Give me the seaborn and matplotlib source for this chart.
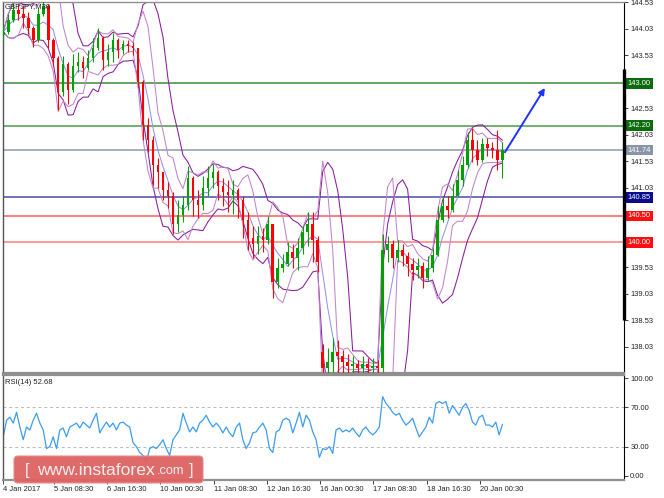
import matplotlib
matplotlib.use("Agg")
import matplotlib.pyplot as plt
from matplotlib.patches import FancyBboxPatch
from matplotlib.transforms import IdentityTransform
import numpy as np
import pandas as pd
import seaborn as sns

# GBPJPY M30, 4-20 Jan 2017, drawn as one candle per 6 bars
bar_step = 6
first_bar = 3

opens = [143.91, 143.97, 144.19, 144.38, 144.30, 144.23, 144.04, 143.81, 144.30, 144.46,
         143.81, 143.48, 142.83, 143.36, 142.87, 143.32, 143.40, 143.29, 143.48, 143.66,
         143.85, 143.44, 143.59, 143.81, 143.63, 143.74, 143.70, 143.66, 143.02, 142.21,
         141.93, 141.46, 141.33, 140.99, 140.88, 140.35, 140.52, 140.71, 141.21, 140.80,
         140.71, 141.03, 141.21, 141.33, 141.06, 140.95, 140.89, 140.99, 140.80, 140.42,
         140.08, 139.97, 140.12, 140.05, 140.35, 139.26, 139.52, 139.59, 139.82, 139.71,
         139.90, 140.20, 140.35, 140.05, 137.94, 137.64, 137.75, 137.94, 137.86, 137.75,
         137.67, 137.71, 137.64, 137.71, 137.64, 137.67, 137.64, 139.86, 139.97, 139.71,
         139.86, 139.75, 139.59, 139.48, 139.56, 139.33, 139.52, 139.76, 140.42, 140.69,
         140.61, 140.88, 141.18, 141.46, 141.93, 141.74, 141.55, 141.86, 141.78, 141.74,
         141.55]
closes = [143.97, 144.19, 144.38, 144.30, 144.23, 144.04, 143.81, 144.30, 144.46, 143.81,
          143.48, 142.83, 143.36, 142.87, 143.32, 143.40, 143.29, 143.48, 143.66, 143.85,
          143.44, 143.59, 143.81, 143.63, 143.74, 143.70, 143.66, 143.02, 142.21, 141.93,
          141.46, 141.33, 140.99, 140.88, 140.35, 140.52, 140.71, 141.21, 140.80, 140.71,
          141.03, 141.21, 141.33, 141.06, 140.95, 140.89, 140.99, 140.80, 140.42, 140.08,
          139.97, 140.12, 140.05, 140.35, 139.26, 139.52, 139.59, 139.82, 139.71, 139.90,
          140.20, 140.35, 140.05, 139.63, 137.64, 137.75, 137.94, 137.86, 137.75, 137.67,
          137.71, 137.64, 137.71, 137.64, 137.67, 137.64, 139.86, 139.97, 139.71, 139.86,
          139.75, 139.59, 139.48, 139.56, 139.33, 139.52, 139.76, 140.42, 140.69, 140.61,
          140.88, 141.18, 141.46, 141.93, 141.74, 141.55, 141.86, 141.78, 141.74, 141.55,
          141.74]
highs = [144.10, 144.30, 144.51, 144.49, 144.46, 144.34, 144.08, 144.42, 144.57, 144.49,
         143.85, 143.51, 143.51, 143.40, 143.55, 143.59, 143.51, 143.63, 143.85, 144.04,
         143.89, 143.74, 143.95, 143.85, 143.81, 143.81, 143.78, 143.66, 143.06, 142.35,
         142.01, 141.59, 141.33, 141.14, 140.95, 140.80, 140.88, 141.44, 141.25, 140.99,
         141.25, 141.44, 141.48, 141.37, 141.21, 141.18, 141.18, 141.03, 140.88, 140.57,
         140.31, 140.31, 140.27, 140.50, 140.35, 139.71, 139.78, 140.01, 139.97, 140.08,
         140.31, 140.57, 140.57, 140.12, 138.09, 138.01, 138.20, 138.16, 137.97, 137.90,
         137.86, 137.79, 137.86, 137.82, 137.82, 137.79, 140.16, 140.12, 140.05, 140.05,
         139.97, 139.82, 139.71, 139.71, 139.63, 139.75, 139.90, 140.69, 140.88, 140.88,
         141.10, 141.37, 141.63, 142.08, 142.16, 141.93, 141.97, 141.97, 141.89, 142.12,
         141.89]
lows = [143.81, 143.93, 144.15, 144.19, 144.04, 143.93, 143.68, 143.78, 144.27, 143.66,
        143.32, 142.50, 142.76, 142.61, 142.83, 143.21, 143.10, 143.25, 143.40, 143.63,
        143.25, 143.32, 143.40, 143.48, 143.55, 143.59, 143.53, 142.91, 141.93, 141.70,
        141.08, 141.03, 140.80, 140.65, 140.16, 140.20, 140.39, 140.61, 140.50, 140.46,
        140.61, 140.88, 141.03, 140.80, 140.69, 140.57, 140.54, 140.46, 140.08, 139.86,
        139.71, 139.78, 139.82, 139.97, 138.95, 139.14, 139.44, 139.56, 139.52, 139.48,
        139.78, 139.93, 139.63, 139.44, 137.41, 137.45, 137.56, 137.48, 137.48, 137.45,
        137.45, 137.41, 137.45, 137.41, 137.45, 137.41, 137.56, 139.63, 139.52, 139.63,
        139.56, 139.37, 139.29, 139.33, 139.14, 139.29, 139.44, 139.75, 140.39, 140.46,
        140.57, 140.88, 141.06, 141.40, 141.52, 141.46, 141.52, 141.63, 141.59, 141.37,
        141.21]

# RSI(14), one reading every 4 bars
rsi_step = 4
rsi_values = [40, 57, 60, 54, 65, 50, 37, 50, 47, 57,
              64, 54, 47, 28, 30, 40, 28, 47, 49, 40,
              50, 52, 54, 49, 55, 52, 49, 57, 64, 44,
              50, 55, 50, 54, 47, 54, 55, 52, 50, 34,
              30, 24, 21, 14, 28, 30, 28, 32, 37, 28,
              21, 37, 42, 47, 64, 54, 45, 50, 45, 54,
              57, 62, 55, 50, 54, 50, 44, 50, 44, 40,
              50, 54, 37, 28, 34, 44, 45, 50, 54, 47,
              28, 24, 45, 47, 57, 59, 57, 44, 54, 65,
              50, 62, 57, 45, 37, 19,
              28, 27, 30, 23, 47, 49, 45, 47, 45, 49,
              44, 40, 47, 50, 45, 42, 45, 50, 81, 74,
              70, 65, 62, 64, 57, 52, 55, 59, 49, 40,
              45, 50, 60, 54, 74, 76, 74, 76, 64, 72,
              67, 62, 70, 74, 67, 55, 52, 60, 62, 52,
              52, 50, 55, 42, 52.68]

level_prices = [143.00, 142.20, 141.74, 140.85, 140.50, 140.00]
level_line_colors = ["#3a8a3a", "#4a9a4a", "#8a9bb0", "#4b4ba6", "#ff5a5a", "#ff7d7d"]
level_box_colors = ["#0c6b0c", "#0c6b0c", "#8795a6", "#0a0a8c", "#ff1010", "#ff1010"]

price_ticks = [138.03, 138.53, 139.03, 139.53, 141.03, 141.53, 142.03, 142.53,
               143.53, 144.03, 144.53]
rsi_ticks = [0, 30, 70, 100]
time_labels = ["4 Jan 2017", "5 Jan 08:30", "6 Jan 16:30", "10 Jan 00:30", "11 Jan 08:30",
               "12 Jan 16:30", "16 Jan 00:30", "17 Jan 08:30", "18 Jan 16:30", "20 Jan 00:30"]
time_label_bars = [3, 64, 128, 192, 256, 320, 384, 448, 512, 576]

arrow_from = (606, 141.70)
arrow_to = (654, 142.91)
scale_bar = (138.54, 143.27)

W, H = 664, 498


def fx(x):
    return x / W


def fy(y):
    return 1 - y / H


sns.set_style("white")
plt.rcParams["font.family"] = ["Liberation Sans", "DejaVu Sans"]

fig = plt.figure(figsize=(W / 100, H / 100), dpi=100)
ax_p = fig.add_axes([fx(3), fy(373), (624 - 3) / W, 371 / H])
ax_r = fig.add_axes([fx(3), fy(480), (624 - 3) / W, 105 / H])

xlim = (2.7, 749.1)

# ---- price pane ----
df = pd.DataFrame({"open": opens, "high": highs, "low": lows, "close": closes})
df["bar"] = first_bar + bar_step * np.arange(len(df))
up = df["close"] >= df["open"]
colors = np.where(up, "#00a000", "#ff0000")

# two bollinger envelopes and the short moving average
for win, col in [(7, "#8a1c9c"), (4, "#c185ce")]:
    mid = df["close"].rolling(win, min_periods=1).mean()
    sd = df["close"].rolling(win, min_periods=1).std(ddof=0)
    sns.lineplot(x=df["bar"], y=mid + 2 * sd, ax=ax_p, color=col, lw=0.75, zorder=2)
    sns.lineplot(x=df["bar"], y=mid - 2 * sd, ax=ax_p, color=col, lw=0.75, zorder=2)
mid4 = df["close"].rolling(4, min_periods=1).mean()
sns.lineplot(x=df["bar"], y=mid4, ax=ax_p, color="#8c8cf2", lw=0.7, zorder=2)

ax_p.vlines(df["bar"], df["low"], df["high"], colors=colors, lw=0.8, zorder=3)
body_lo = np.minimum(df["open"], df["close"])
body_h = np.maximum(np.abs(df["close"] - df["open"]), 0.015)
ax_p.bar(df["bar"], body_h, bottom=body_lo, width=3.2, color=colors, lw=0, zorder=3)

for price, lc, bc in zip(level_prices, level_line_colors, level_box_colors):
    ax_p.axhline(price, color=lc, lw=1.1, zorder=1)
    ax_p.text(1.006, price, f"{price:.2f}", transform=ax_p.get_yaxis_transform(),
              ha="left", va="center", fontsize=5.4, color="white", clip_on=False,
              bbox=dict(boxstyle="square,pad=0.25", fc=bc, ec="none"))

ax_p.annotate("", xy=arrow_to, xytext=arrow_from,
              arrowprops=dict(arrowstyle="-|>", color="#1e32ff", lw=1.4,
                              mutation_scale=9, shrinkA=0, shrinkB=0), zorder=5)

ax_p.plot([1, 1], scale_bar, transform=ax_p.get_yaxis_transform(), color="black",
          lw=2.4, clip_on=False, solid_capstyle="butt", zorder=6)

ax_p.set_xlim(*xlim)
ax_p.set_ylim(137.54, 144.53)
ax_p.set_xticks([])
ax_p.yaxis.tick_right()
ax_p.set_yticks(price_ticks)
ax_p.set_yticklabels([f"{v:.2f}" for v in price_ticks])
ax_p.set_xlabel("")
ax_p.set_ylabel("")

# ---- RSI pane ----
rsi_bars = first_bar + rsi_step * np.arange(len(rsi_values))
ax_r.axhline(70, color="#b8b8b8", lw=0.7, ls=(0, (3, 3)))
ax_r.axhline(30, color="#b8b8b8", lw=0.7, ls=(0, (3, 3)))
sns.lineplot(x=rsi_bars, y=rsi_values, ax=ax_r, color="#3c9cf2", lw=0.9)
ax_r.set_xlim(*xlim)
ax_r.set_ylim(-4.1, 103.1)
ax_r.yaxis.tick_right()
ax_r.set_yticks(rsi_ticks)
ax_r.set_yticklabels([f"{v:.2f}" for v in rsi_ticks])
ax_r.set_xticks(time_label_bars)
ax_r.set_xticklabels(time_labels, ha="left")
ax_r.set_xlabel("")
ax_r.set_ylabel("")

for ax in (ax_p, ax_r):
    ax.tick_params(axis="y", which="both", right=True, left=False, length=3, width=0.6,
                   pad=1.5, labelsize=5.4, colors="#222222", direction="out")
    ax.spines["left"].set_color("#555555")
    ax.spines["left"].set_linewidth(1.0)
    ax.spines["right"].set_color("#000000")
    ax.spines["right"].set_linewidth(0.8)
    ax.set_facecolor("white")
ax_r.tick_params(axis="x", bottom=True, length=3, width=0.6, pad=1.5, labelsize=5.4,
                 colors="#222222", direction="out")
ax_p.spines["top"].set_color("#8f8f8f")
ax_p.spines["top"].set_linewidth(1.0)
ax_p.spines["bottom"].set_color("#8f8f8f")
ax_p.spines["bottom"].set_linewidth(1.6)
ax_r.spines["top"].set_color("#8f8f8f")
ax_r.spines["top"].set_linewidth(1.6)
ax_r.spines["bottom"].set_color("#8f8f8f")
ax_r.spines["bottom"].set_linewidth(1.6)

fig.text(fx(5), fy(7), "GBPJPY,M30", fontsize=5.5, color="#222222", va="center",
         zorder=10)
fig.text(fx(5), fy(382), "RSI(14) 52.68", fontsize=5.5, color="#222222", va="center")

# watermark
badge = FancyBboxPatch((14, H - 483), 189, 27, boxstyle="round,pad=0,rounding_size=4",
                       transform=IdentityTransform(), fc="#de6262", ec="#e98a8a",
                       lw=0.8, alpha=0.95, zorder=20)
fig.add_artist(badge)
fig.text(fx(25), fy(470), "[", fontsize=12, color="#f6eeee", va="center", zorder=21)
fig.text(fx(37), fy(470), "www.instaforex", fontsize=12.6, color="#f6eeee",
         va="center", zorder=21)
fig.text(fx(157), fy(471), ".com", fontsize=9.2, color="#f6eeee", va="center", zorder=21)
fig.text(fx(189), fy(470), "]", fontsize=12, color="#f6eeee", va="center", zorder=21)

fig.savefig("out.png", dpi=100)
